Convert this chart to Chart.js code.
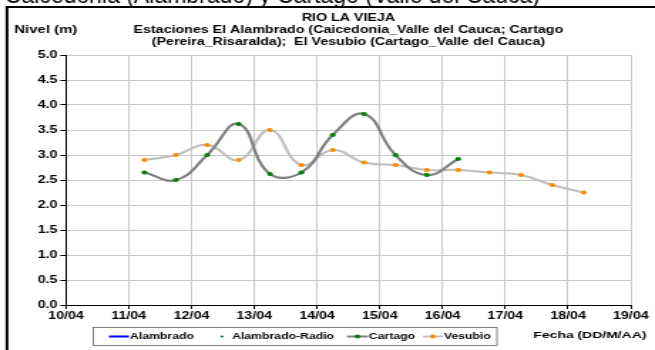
<!DOCTYPE html>
<html>
<head>
<meta charset="utf-8">
<script src="https://cdn.jsdelivr.net/npm/chart.js@4.4.1/dist/chart.umd.min.js"></script>
<style>
  html, body { margin: 0; padding: 0; background: #fff; overflow: hidden; }
</style>
</head>
<body>
<!-- the original picture is an Excel chart stretched sideways, so the canvas is too -->
<canvas id="nivelChart" width="460" height="350" style="width:655px;height:350px;display:block"></canvas>
<script>
// days counted from 10/04 00:00
const dias = [1.25, 1.75, 2.25, 2.75, 3.25, 3.75, 4.25, 4.75, 5.25, 5.75, 6.25, 6.75, 7.25, 7.75, 8.25];
const tickLabels = ['10/04', '11/04', '12/04', '13/04', '14/04', '15/04', '16/04', '17/04', '18/04', '19/04'];

const alambrado = [];
const alambradoRadio = [];
const cartago = [2.65, 2.5, 3.0, 3.62, 2.62, 2.65, 3.4, 3.82, 3.0, 2.6, 2.92];
const vesubio = [2.9, 3.0, 3.2, 2.9, 3.5, 2.8, 3.1, 2.85, 2.8, 2.7, 2.7, 2.65, 2.6, 2.4, 2.25];

const titulo = [
    'RIO LA VIEJA',
    'Estaciones El Alambrado (Caicedonia_Valle del Cauca; Cartago',
    '(Pereira_Risaralda);  El Vesubio (Cartago_Valle del Cauca)'
];

const FONT = '"Liberation Sans", Arial, sans-serif';
const ESTIRA = 655 / 460;

function puntos(valores) {
    return valores.map((v, i) => ({ x: dias[i], y: v }));
}

// frame, axis captions, legend box and the cut caption above the chart
const marco = {
    id: 'marco',
    afterDraw(chart) {
        const ctx = chart.ctx;
        ctx.save();

        // caption of the page (not stretched), cut off at the top
        ctx.save();
        ctx.scale(1 / ESTIRA, 1);
        ctx.fillStyle = '#000';
        ctx.font = '23px ' + FONT;
        ctx.textAlign = 'right';
        ctx.textBaseline = 'alphabetic';
        ctx.fillText('Caicedonia (Alambrado) y Cartago (Valle del Cauca)', 540, 2.5);
        ctx.restore();

        // outer frame
        ctx.strokeStyle = '#000';
        ctx.lineWidth = 2;
        ctx.beginPath();
        ctx.moveTo(4.9, 360);
        ctx.lineTo(4.9, 7);
        ctx.lineTo(470, 7);
        ctx.stroke();

        ctx.fillStyle = '#000';
        ctx.font = 'bold 10.5px ' + FONT;
        ctx.textAlign = 'left';
        ctx.textBaseline = 'middle';
        ctx.fillText('Nivel (m)', 10, 30);
        ctx.font = 'bold 9.8px ' + FONT;
        ctx.textAlign = 'right';
        ctx.fillText('Fecha (DD/M/AA)', 454, 335);

        // legend
        ctx.strokeStyle = '#606060';
        ctx.lineWidth = 0.8;
        ctx.strokeRect(65.5, 327.5, 283.5, 18);

        ctx.font = 'bold 8.6px ' + FONT;
        ctx.textAlign = 'left';
        const ds = chart.data.datasets;
        const items = [
            { ds: ds[0], x0: 76.5, x1: 90.6, tx: 91.3, linea: true, punto: false },
            { ds: ds[1], x0: 155.9, x1: 155.9, tx: 163, linea: false, punto: true },
            { ds: ds[2], x0: 243.7, x1: 258.4, tx: 259.1, linea: true, punto: true },
            { ds: ds[3], x0: 297, x1: 311, tx: 311.8, linea: true, punto: true }
        ];
        const ly = 336.5;
        items.forEach(it => {
            if (it.linea) {
                ctx.strokeStyle = it.ds.borderColor;
                ctx.lineWidth = 2;
                ctx.beginPath();
                ctx.moveTo(it.x0, ly);
                ctx.lineTo(it.x1, ly);
                ctx.stroke();
            }
            if (it.punto) {
                ctx.fillStyle = it.ds.pointBackgroundColor;
                ctx.beginPath();
                ctx.arc((it.x0 + it.x1) / 2, ly, it.linea ? 1.9 : 1.1, 0, Math.PI * 2);
                ctx.fill();
            }
            ctx.fillStyle = '#000';
            ctx.fillText(it.ds.label, it.tx, ly);
        });

        ctx.restore();
    }
};

const ctx = document.getElementById('nivelChart').getContext('2d');
new Chart(ctx, {
    type: 'line',
    data: {
        datasets: [
            {
                label: 'Alambrado',
                data: puntos(alambrado),
                borderColor: '#0000ff',
                borderWidth: 2,
                pointRadius: 0
            },
            {
                label: 'Alambrado-Radio',
                data: puntos(alambradoRadio),
                borderColor: '#008000',
                pointBackgroundColor: '#008000',
                showLine: false,
                pointRadius: 1.2
            },
            {
                label: 'Cartago',
                data: puntos(cartago),
                borderColor: '#808080',
                borderWidth: 2.2,
                pointBackgroundColor: '#008000',
                pointBorderWidth: 0,
                pointRadius: 2.1,
                tension: 0.45
            },
            {
                label: 'Vesubio',
                data: puntos(vesubio),
                borderColor: '#c0c0c0',
                borderWidth: 2.2,
                pointBackgroundColor: '#ff8c00',
                pointBorderWidth: 0,
                pointRadius: 2.1,
                tension: 0.45
            }
        ]
    },
    options: {
        responsive: false,
        devicePixelRatio: 1,
        animation: false,
        layout: { padding: { left: 4, right: 17, top: 12, bottom: 0 } },
        plugins: {
            legend: { display: false },
            tooltip: { enabled: false },
            title: {
                display: true,
                text: titulo,
                fullSize: false,
                color: '#000',
                font: { family: FONT, size: 10, weight: 'bold', lineHeight: 1.2 },
                padding: { top: 0, bottom: 7 }
            }
        },
        scales: {
            x: {
                type: 'linear',
                min: 0,
                max: 9,
                afterFit: s => { s.height = 45; },
                border: { color: '#000', width: 1 },
                grid: { color: '#c8c8c8', tickColor: '#000', tickLength: 4 },
                ticks: {
                    stepSize: 1,
                    autoSkip: false,
                    maxRotation: 0,
                    padding: 1,
                    color: '#000',
                    font: { family: FONT, size: 10, weight: 'bold' },
                    callback: v => tickLabels[v]
                }
            },
            y: {
                min: 0,
                max: 5,
                afterFit: s => { s.width = 42.35; },
                border: { color: '#000', width: 1 },
                grid: { color: '#c8c8c8', tickColor: '#000', tickLength: 4 },
                ticks: {
                    stepSize: 0.5,
                    padding: 2,
                    color: '#000',
                    font: { family: FONT, size: 10, weight: 'bold' },
                    callback: v => v.toFixed(1)
                }
            }
        }
    },
    plugins: [marco]
});
</script>
</body>
</html>
